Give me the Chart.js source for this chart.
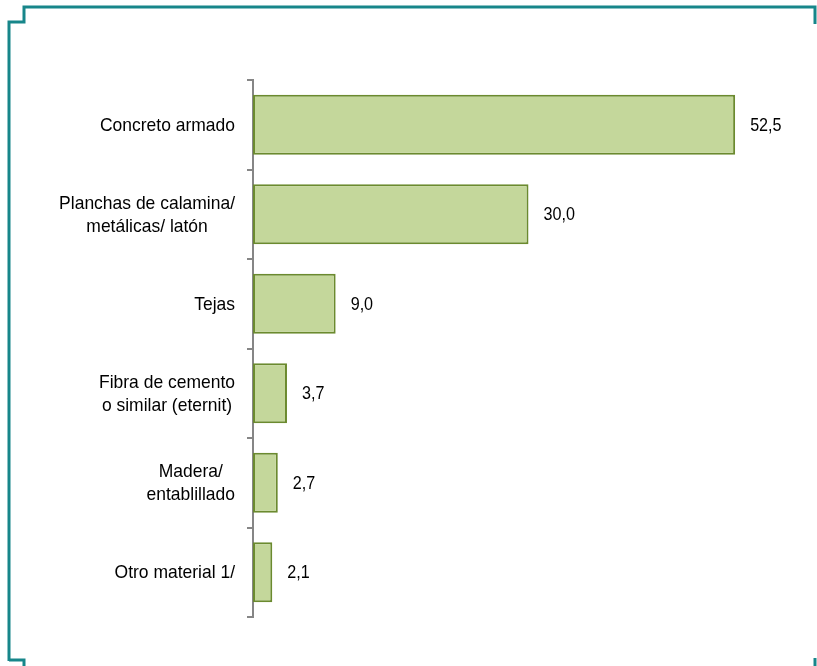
<!DOCTYPE html>
<html>
<head>
<meta charset="utf-8">
<script src="https://cdn.jsdelivr.net/npm/chart.js@4.4.1/dist/chart.umd.min.js"></script>
<style>
  body { margin: 0; background: #fff; }
  canvas { display: block; }
</style>
</head>
<body>
<canvas id="roofChart" width="817" height="666"></canvas>
<script>
// Categories and values (%)
const categories = [
    ['Concreto armado'],
    ['Planchas de calamina/', 'metálicas/ latón'],
    ['Tejas'],
    ['Fibra de cemento', 'o similar (eternit)'],
    ['Madera/', 'entablillado'],
    ['Otro material 1/']
];
const values = [52.5, 30.0, 9.0, 3.7, 2.7, 2.1];

// the original text is a slightly condensed Arial, so squeeze it horizontally
const FONT = '19px "Liberation Sans", Arial, sans-serif';
const LABEL_SQUEEZE = 0.92;
const VALUE_SQUEEZE = 0.85;

// Teal corner frame around the chart
const framePlugin = {
    id: 'frame',
    beforeDraw(chart) {
        const ctx = chart.ctx;
        ctx.save();
        ctx.strokeStyle = '#17868a';
        ctx.lineWidth = 3;
        ctx.beginPath();
        ctx.moveTo(9, 661);
        ctx.lineTo(9, 22);
        ctx.lineTo(24, 22);
        ctx.lineTo(24, 7);
        ctx.lineTo(815, 7);
        ctx.lineTo(815, 24);
        ctx.stroke();
        ctx.beginPath();
        ctx.moveTo(9, 660);
        ctx.lineTo(24, 660);
        ctx.lineTo(24, 666);
        ctx.stroke();
        ctx.beginPath();
        ctx.moveTo(815, 658);
        ctx.lineTo(815, 666);
        ctx.stroke();
        ctx.restore();
    }
};

// Category labels: block right aligned to the axis, lines centred within the block
const categoryLabels = {
    id: 'categoryLabels',
    afterDraw(chart) {
        const ctx = chart.ctx;
        const yScale = chart.scales.y;
        const right = yScale.right - 18;
        const lineH = 23;
        ctx.save();
        ctx.font = FONT;
        ctx.fillStyle = '#000';
        ctx.textAlign = 'center';
        ctx.textBaseline = 'middle';
        categories.forEach((lines, i) => {
            const y = yScale.getPixelForValue(i) + 1;
            const maxW = Math.max(...lines.map(l => ctx.measureText(l).width)) * LABEL_SQUEEZE;
            const cx = right - maxW / 2;
            const top = y - (lines.length - 1) * lineH / 2;
            lines.forEach((l, j) => {
                ctx.save();
                ctx.translate(cx, top + j * lineH);
                ctx.scale(LABEL_SQUEEZE, 1);
                ctx.fillText(l, 0, 0);
                ctx.restore();
            });
        });
        ctx.restore();
    }
};

// Value labels at the end of each bar
const valueLabels = {
    id: 'valueLabels',
    afterDatasetsDraw(chart) {
        const ctx = chart.ctx;
        const meta = chart.getDatasetMeta(0);
        ctx.save();
        ctx.font = FONT;
        ctx.fillStyle = '#000';
        ctx.textAlign = 'left';
        ctx.textBaseline = 'middle';
        meta.data.forEach((bar, i) => {
            ctx.save();
            ctx.translate(bar.x + 15, bar.y + 1);
            ctx.scale(VALUE_SQUEEZE, 1);
            ctx.fillText(values[i].toFixed(1).replace('.', ','), 0, 0);
            ctx.restore();
        });
        ctx.restore();
    }
};

const ctx = document.getElementById('roofChart').getContext('2d');
new Chart(ctx, {
    type: 'bar',
    data: {
        labels: categories,
        datasets: [{
            data: values,
            backgroundColor: '#c4d79b',
            borderColor: '#6b8a2f',
            borderWidth: 2,
            borderSkipped: false,
            categoryPercentage: 1,
            barPercentage: 0.67
        }]
    },
    options: {
        indexAxis: 'y',
        responsive: false,
        animation: false,
        layout: {
            padding: { top: 80, bottom: 49, right: 13, left: 0 }
        },
        plugins: {
            legend: { display: false },
            tooltip: { enabled: false }
        },
        scales: {
            x: {
                display: false,
                min: 0,
                max: 60
            },
            y: {
                afterFit(scale) { scale.width = 253; },
                grid: {
                    drawOnChartArea: false,
                    offset: true,
                    tickLength: 6,
                    color: '#868686',
                    lineWidth: 2
                },
                border: { display: true, color: '#868686', width: 2 },
                ticks: { display: false }
            }
        }
    },
    plugins: [framePlugin, valueLabels, categoryLabels]
});
</script>
</body>
</html>
